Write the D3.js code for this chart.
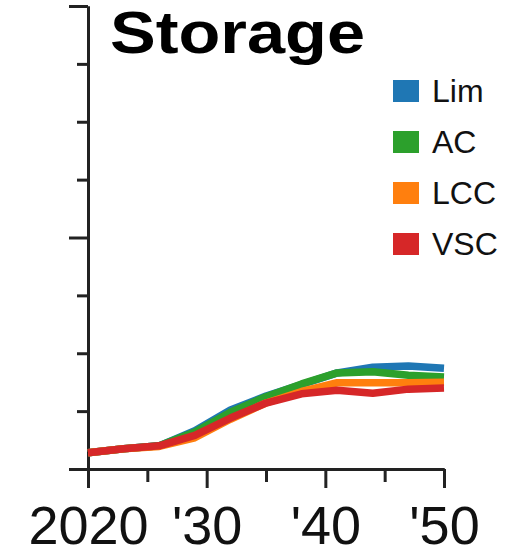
<!DOCTYPE html>
<html>
<head>
<meta charset="utf-8">
<script src="https://cdn.jsdelivr.net/npm/d3@7"></script>
<style>
  body { margin: 0; background: #fff; }
  svg { font-family: "Liberation Sans", Arial, Helvetica, sans-serif; }
  .axis path, .axis line { stroke: #222; stroke-width: 3; }
</style>
</head>
<body>
<div id="chart"></div>
<script>
// data
var years = [2020, 2023, 2026, 2029, 2032, 2035, 2038, 2041, 2044, 2047, 2050];
var lim = [0.28, 0.35, 0.40, 0.66, 1.02, 1.26, 1.46, 1.66, 1.76, 1.78, 1.74];
var ac  = [0.28, 0.35, 0.40, 0.64, 0.98, 1.25, 1.47, 1.66, 1.68, 1.62, 1.59];
var lcc = [0.28, 0.35, 0.39, 0.54, 0.86, 1.14, 1.34, 1.49, 1.49, 1.49, 1.50];
var vsc = [0.28, 0.35, 0.40, 0.58, 0.88, 1.14, 1.30, 1.36, 1.31, 1.38, 1.40];
var names = ["Lim", "AC", "LCC", "VSC"];
var colors = ["#1f77b4", "#2ca02c", "#ff7f0e", "#d62728"];
var xMajor = [2020, 2030, 2040, 2050];
var xMinor = [2025, 2035, 2045];
var yMajor = [0, 4, 8];
var yMinor = [1, 2, 3, 5, 6, 7];

var series = [lim, ac, lcc, vsc];

var width = 510, height = 555;

var svg = d3.select("#chart").append("svg")
  .attr("width", width)
  .attr("height", height);

var x = d3.scaleLinear()
  .domain([2020, 2050])
  .range([88, 444]);

var y = d3.scaleLinear()
  .domain([0, 8])
  .range([469, 6]);

// y axis, minor then major ticks
svg.append("g")
  .attr("class", "axis")
  .attr("transform", "translate(88,0)")
  .call(d3.axisLeft(y).tickValues(yMinor).tickSize(11).tickSizeOuter(0).tickFormat(""));

svg.append("g")
  .attr("class", "axis")
  .attr("transform", "translate(88,0)")
  .call(d3.axisLeft(y).tickValues(yMajor).tickSize(19).tickSizeOuter(0).tickFormat(""));

// x axis
svg.append("g")
  .attr("class", "axis")
  .attr("transform", "translate(0,469)")
  .call(d3.axisBottom(x).tickValues(xMinor).tickSize(13).tickSizeOuter(0).tickFormat(""));

var xAxis = svg.append("g")
  .attr("class", "axis")
  .attr("transform", "translate(0,469)")
  .call(d3.axisBottom(x).tickValues(xMajor).tickSize(19).tickSizeOuter(0).tickPadding(18)
    .tickFormat(function(d) { return d == 2020 ? "2020" : "'" + String(d).slice(2); }));

xAxis.selectAll("text")
  .attr("font-size", 54)
  .attr("font-family", "Liberation Sans, Arial, sans-serif")
  .attr("fill", "#111");

// lines
var line = d3.line()
  .x(function(d, i) { return x(years[i]); })
  .y(function(d) { return y(d); });

svg.selectAll("path.series")
  .data(series)
  .enter().append("path")
  .attr("class", "series")
  .attr("d", line)
  .attr("fill", "none")
  .attr("stroke", function(d, i) { return colors[i]; })
  .attr("stroke-width", 7.5)
  .attr("stroke-linejoin", "round");

// title
svg.append("text")
  .attr("x", 110)
  .attr("y", 53)
  .attr("font-size", 60)
  .attr("font-weight", "bold")
  .attr("textLength", 255)
  .attr("lengthAdjust", "spacingAndGlyphs")
  .text("Storage");

// legend
var legend = svg.selectAll("g.legend")
  .data(names)
  .enter().append("g")
  .attr("class", "legend")
  .attr("transform", function(d, i) { return "translate(0," + (102 + i * 51) + ")"; });

legend.append("rect")
  .attr("x", 393)
  .attr("y", -22)
  .attr("width", 26)
  .attr("height", 22)
  .attr("fill", function(d, i) { return colors[i]; });

legend.append("text")
  .attr("x", 432)
  .attr("y", 0)
  .attr("font-size", 32)
  .attr("fill", "#111")
  .text(function(d) { return d; });
</script>
</body>
</html>
